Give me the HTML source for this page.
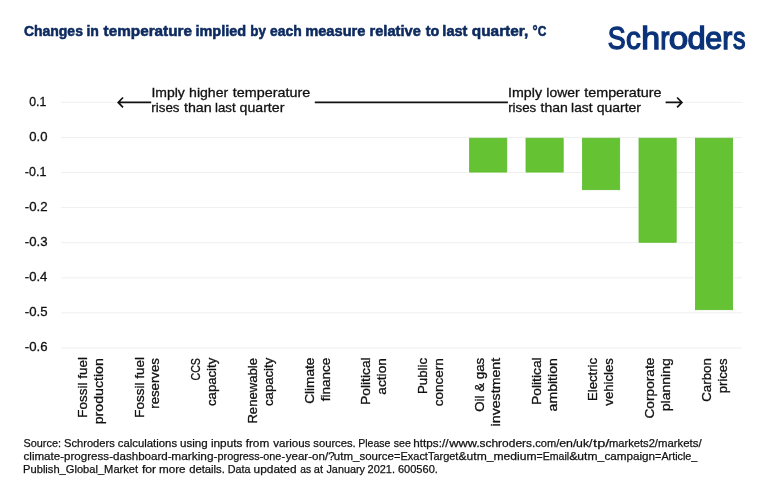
<!DOCTYPE html>
<html lang="en">
<head>
<meta charset="utf-8">
<title>Changes in temperature implied by each measure</title>
<style>
html,body{margin:0;padding:0;background:#fff;}
body{width:770px;height:492px;overflow:hidden;font-family:"Liberation Sans",sans-serif;}
svg{display:block;}
text{font-family:"Liberation Sans",sans-serif;white-space:pre;}
.title{font-weight:bold;font-size:14.9px;fill:#0e2b60;stroke:#0e2b60;stroke-width:0.55px;}
.logo{font-weight:normal;font-size:30.6px;fill:#0b3379;stroke:#0b3379;stroke-width:1.3px;}
.ytick{font-size:12.8px;fill:#111;stroke:#111;stroke-width:0.3px;}
.xlab{font-size:13.0px;fill:#111;stroke:#111;stroke-width:0.3px;}
.ann{font-size:13.2px;fill:#111;stroke:#111;stroke-width:0.3px;}
.foot{font-size:11.4px;fill:#111;stroke:#111;stroke-width:0.25px;}
.grid line{stroke:#efeff0;stroke-width:1;}
.bar{fill:#64c233;stroke:#5ebb30;stroke-width:0.8px;}
.arr{stroke:#111;stroke-width:1.7;fill:none;}
</style>
</head>
<body>
<svg width="770" height="492" viewBox="0 0 770 492">
<rect width="770" height="492" fill="#ffffff"/>
<g class="grid">
<line x1="61.2" x2="117.5" y1="102.3" y2="102.3"/>
<line x1="683" x2="742.3" y1="102.3" y2="102.3"/>
<line x1="61.2" x2="742.3" y1="137.4" y2="137.4"/>
<line x1="61.2" x2="742.3" y1="172.5" y2="172.5"/>
<line x1="61.2" x2="742.3" y1="207.6" y2="207.6"/>
<line x1="61.2" x2="742.3" y1="242.7" y2="242.7"/>
<line x1="61.2" x2="742.3" y1="277.8" y2="277.8"/>
<line x1="61.2" x2="742.3" y1="312.9" y2="312.9"/>
<line x1="61.2" x2="742.3" y1="348.0" y2="348.0"/>
</g>
<rect fill="#fff" x="468.6" y="138.0" width="39.2" height="35.1"/>
<rect class="bar" x="469.6" y="138.2" width="37.2" height="33.9"/>
<rect fill="#fff" x="525.0" y="138.0" width="39.2" height="35.1"/>
<rect class="bar" x="526.0" y="138.2" width="37.2" height="33.9"/>
<rect fill="#fff" x="581.5" y="138.0" width="39.2" height="52.7"/>
<rect class="bar" x="582.5" y="138.2" width="37.2" height="51.5"/>
<rect fill="#fff" x="638.0" y="138.0" width="39.2" height="105.3"/>
<rect class="bar" x="639.0" y="138.2" width="37.2" height="104.1"/>
<rect fill="#fff" x="694.4" y="138.0" width="39.2" height="172.7"/>
<rect class="bar" x="695.4" y="138.2" width="37.2" height="171.5"/>
<path class="arr" d="M151.2 102.4H118.6M123 97.5L118.2 102.4L123 107.3"/>
<path class="arr" d="M314.8 102.4H507.9"/>
<path class="arr" d="M665.6 102.4H681.5M677.1 97.5L681.9 102.4L677.1 107.3"/>
<text class="ytick" x="29.27" y="105.50" textLength="17.08" lengthAdjust="spacingAndGlyphs">0.1</text>
<text class="ytick" x="29.24" y="140.60" textLength="18.22" lengthAdjust="spacingAndGlyphs">0.0</text>
<text class="ytick" x="24.79" y="175.70" textLength="21.57" lengthAdjust="spacingAndGlyphs">-0.1</text>
<text class="ytick" x="24.76" y="210.80" textLength="22.86" lengthAdjust="spacingAndGlyphs">-0.2</text>
<text class="ytick" x="24.76" y="245.90" textLength="22.77" lengthAdjust="spacingAndGlyphs">-0.3</text>
<text class="ytick" x="24.77" y="281.00" textLength="22.57" lengthAdjust="spacingAndGlyphs">-0.4</text>
<text class="ytick" x="24.76" y="316.10" textLength="22.74" lengthAdjust="spacingAndGlyphs">-0.5</text>
<text class="ytick" x="24.76" y="351.20" textLength="22.77" lengthAdjust="spacingAndGlyphs">-0.6</text>
<text class="xlab" transform="translate(86.80 417.65) rotate(-90)" textLength="60.61" lengthAdjust="spacingAndGlyphs">Fossil fuel</text>
<text class="xlab" transform="translate(102.70 424.26) rotate(-90)" textLength="66.13" lengthAdjust="spacingAndGlyphs">production</text>
<text class="xlab" transform="translate(143.53 417.65) rotate(-90)" textLength="60.61" lengthAdjust="spacingAndGlyphs">Fossil fuel</text>
<text class="xlab" transform="translate(159.43 408.73) rotate(-90)" textLength="50.55" lengthAdjust="spacingAndGlyphs">reserves</text>
<text class="xlab" transform="translate(200.26 380.49) rotate(-90)" textLength="22.32" lengthAdjust="spacingAndGlyphs">CCS</text>
<text class="xlab" transform="translate(216.16 406.01) rotate(-90)" textLength="48.28" lengthAdjust="spacingAndGlyphs">capacity</text>
<text class="xlab" transform="translate(256.99 423.62) rotate(-90)" textLength="65.56" lengthAdjust="spacingAndGlyphs">Renewable</text>
<text class="xlab" transform="translate(272.89 406.01) rotate(-90)" textLength="48.28" lengthAdjust="spacingAndGlyphs">capacity</text>
<text class="xlab" transform="translate(313.72 403.84) rotate(-90)" textLength="46.20" lengthAdjust="spacingAndGlyphs">Climate</text>
<text class="xlab" transform="translate(329.62 401.24) rotate(-90)" textLength="43.59" lengthAdjust="spacingAndGlyphs">finance</text>
<text class="xlab" transform="translate(370.45 404.98) rotate(-90)" textLength="47.66" lengthAdjust="spacingAndGlyphs">Political</text>
<text class="xlab" transform="translate(386.35 394.63) rotate(-90)" textLength="36.47" lengthAdjust="spacingAndGlyphs">action</text>
<text class="xlab" transform="translate(427.18 394.04) rotate(-90)" textLength="36.14" lengthAdjust="spacingAndGlyphs">Public</text>
<text class="xlab" transform="translate(443.08 406.22) rotate(-90)" textLength="48.05" lengthAdjust="spacingAndGlyphs">concern</text>
<text class="xlab" transform="translate(483.91 411.78) rotate(-90)" textLength="54.01" lengthAdjust="spacingAndGlyphs">Oil &amp; gas</text>
<text class="xlab" transform="translate(499.81 426.40) rotate(-90)" textLength="68.55" lengthAdjust="spacingAndGlyphs">investment</text>
<text class="xlab" transform="translate(540.64 404.98) rotate(-90)" textLength="47.66" lengthAdjust="spacingAndGlyphs">Political</text>
<text class="xlab" transform="translate(556.54 411.45) rotate(-90)" textLength="53.32" lengthAdjust="spacingAndGlyphs">ambition</text>
<text class="xlab" transform="translate(597.37 401.03) rotate(-90)" textLength="43.13" lengthAdjust="spacingAndGlyphs">Electric</text>
<text class="xlab" transform="translate(613.27 405.69) rotate(-90)" textLength="47.52" lengthAdjust="spacingAndGlyphs">vehicles</text>
<text class="xlab" transform="translate(654.10 418.55) rotate(-90)" textLength="60.90" lengthAdjust="spacingAndGlyphs">Corporate</text>
<text class="xlab" transform="translate(670.00 411.26) rotate(-90)" textLength="53.11" lengthAdjust="spacingAndGlyphs">planning</text>
<text class="xlab" transform="translate(710.83 401.72) rotate(-90)" textLength="43.54" lengthAdjust="spacingAndGlyphs">Carbon</text>
<text class="xlab" transform="translate(726.73 393.29) rotate(-90)" textLength="34.71" lengthAdjust="spacingAndGlyphs">prices</text>
<text class="title" y="36.30"><tspan x="23.90" textLength="62.90" lengthAdjust="spacingAndGlyphs">Changes </tspan><tspan x="86.39" textLength="16.40" lengthAdjust="spacingAndGlyphs">in </tspan><tspan x="103.59" textLength="92.70" lengthAdjust="spacingAndGlyphs">temperature </tspan><tspan x="195.46" textLength="54.70" lengthAdjust="spacingAndGlyphs">implied </tspan><tspan x="250.29" textLength="19.40" lengthAdjust="spacingAndGlyphs">by </tspan><tspan x="270.03" textLength="35.60" lengthAdjust="spacingAndGlyphs">each </tspan><tspan x="305.21" textLength="64.30" lengthAdjust="spacingAndGlyphs">measure </tspan><tspan x="369.51" textLength="55.40" lengthAdjust="spacingAndGlyphs">relative </tspan><tspan x="425.70" textLength="17.50" lengthAdjust="spacingAndGlyphs">to </tspan><tspan x="442.36" textLength="29.10" lengthAdjust="spacingAndGlyphs">last </tspan><tspan x="471.84" textLength="60.60" lengthAdjust="spacingAndGlyphs">quarter, </tspan><tspan x="532.51" textLength="5.10" lengthAdjust="spacingAndGlyphs">°</tspan><tspan x="537.68" textLength="8.67" lengthAdjust="spacingAndGlyphs">C</tspan></text>
<text class="logo" y="48.55"><tspan x="607.73" textLength="17.84" lengthAdjust="spacingAndGlyphs">S</tspan><tspan x="626.00" textLength="14.73" lengthAdjust="spacingAndGlyphs">c</tspan><tspan x="641.30" textLength="18.85" lengthAdjust="spacingAndGlyphs">h</tspan><tspan x="660.22" textLength="9.19" lengthAdjust="spacingAndGlyphs">r</tspan><tspan x="668.88" textLength="19.44" lengthAdjust="spacingAndGlyphs">o</tspan><tspan x="687.48" textLength="18.18" lengthAdjust="spacingAndGlyphs">d</tspan><tspan x="705.16" textLength="16.95" lengthAdjust="spacingAndGlyphs">e</tspan><tspan x="722.26" textLength="9.99" lengthAdjust="spacingAndGlyphs">r</tspan><tspan x="733.05" textLength="12.50" lengthAdjust="spacingAndGlyphs">s</tspan></text>
<text class="ann" y="96.80"><tspan x="151.46" textLength="37.30" lengthAdjust="spacingAndGlyphs">Imply </tspan><tspan x="189.07" textLength="43.00" lengthAdjust="spacingAndGlyphs">higher </tspan><tspan x="232.83" textLength="77.36" lengthAdjust="spacingAndGlyphs">temperature</tspan></text>
<text class="ann" y="112.40"><tspan x="151.36" textLength="31.90" lengthAdjust="spacingAndGlyphs">rises </tspan><tspan x="183.93" textLength="31.70" lengthAdjust="spacingAndGlyphs">than </tspan><tspan x="214.96" textLength="24.30" lengthAdjust="spacingAndGlyphs">last </tspan><tspan x="239.56" textLength="44.83" lengthAdjust="spacingAndGlyphs">quarter</tspan></text>
<text class="ann" y="96.80"><tspan x="508.14" textLength="37.80" lengthAdjust="spacingAndGlyphs">Imply </tspan><tspan x="546.31" textLength="37.20" lengthAdjust="spacingAndGlyphs">lower </tspan><tspan x="584.23" textLength="77.36" lengthAdjust="spacingAndGlyphs">temperature</tspan></text>
<text class="ann" y="112.40"><tspan x="508.17" textLength="31.80" lengthAdjust="spacingAndGlyphs">rises </tspan><tspan x="540.64" textLength="31.20" lengthAdjust="spacingAndGlyphs">than </tspan><tspan x="571.12" textLength="25.20" lengthAdjust="spacingAndGlyphs">last </tspan><tspan x="596.66" textLength="44.32" lengthAdjust="spacingAndGlyphs">quarter</tspan></text>
<text class="foot" y="446.60"><tspan x="23.53" textLength="40.50" lengthAdjust="spacingAndGlyphs">Source: </tspan><tspan x="64.02" textLength="53.80" lengthAdjust="spacingAndGlyphs">Schroders </tspan><tspan x="117.84" textLength="62.40" lengthAdjust="spacingAndGlyphs">calculations </tspan><tspan x="179.97" textLength="31.00" lengthAdjust="spacingAndGlyphs">using </tspan><tspan x="210.94" textLength="61.60" lengthAdjust="spacingAndGlyphs">inputs from </tspan><tspan x="273.29" textLength="40.30" lengthAdjust="spacingAndGlyphs">various </tspan><tspan x="313.31" textLength="45.50" lengthAdjust="spacingAndGlyphs">sources. </tspan><tspan x="358.26" textLength="35.00" lengthAdjust="spacingAndGlyphs">Please </tspan><tspan x="393.83" textLength="20.00" lengthAdjust="spacingAndGlyphs">see </tspan><tspan x="413.31" textLength="35.10" lengthAdjust="spacingAndGlyphs">https://</tspan><tspan x="449.24" textLength="30.60" lengthAdjust="spacingAndGlyphs">www.</tspan><tspan x="479.49" textLength="55.90" lengthAdjust="spacingAndGlyphs">schroders.</tspan><tspan x="535.25" textLength="24.00" lengthAdjust="spacingAndGlyphs">com/</tspan><tspan x="559.20" textLength="17.20" lengthAdjust="spacingAndGlyphs">en/</tspan><tspan x="576.13" textLength="16.40" lengthAdjust="spacingAndGlyphs">uk/</tspan><tspan x="593.10" textLength="16.30" lengthAdjust="spacingAndGlyphs">tp/</tspan><tspan x="608.88" textLength="49.10" lengthAdjust="spacingAndGlyphs">markets2/</tspan><tspan x="657.97" textLength="43.61" lengthAdjust="spacingAndGlyphs">markets/</tspan></text>
<text class="foot" y="459.60"><tspan x="23.53" textLength="148.10" lengthAdjust="spacingAndGlyphs">climate-progress-dashboard-</tspan><tspan x="171.34" textLength="46.10" lengthAdjust="spacingAndGlyphs">marking-</tspan><tspan x="217.53" textLength="67.50" lengthAdjust="spacingAndGlyphs">progress-one-</tspan><tspan x="285.70" textLength="48.90" lengthAdjust="spacingAndGlyphs">year-on/?</tspan><tspan x="333.88" textLength="60.00" lengthAdjust="spacingAndGlyphs">utm_source</tspan><tspan x="394.09" textLength="64.30" lengthAdjust="spacingAndGlyphs">=ExactTarget</tspan><tspan x="458.50" textLength="78.10" lengthAdjust="spacingAndGlyphs">&amp;utm_medium</tspan><tspan x="536.51" textLength="32.60" lengthAdjust="spacingAndGlyphs">=Email</tspan><tspan x="569.18" textLength="8.50" lengthAdjust="spacingAndGlyphs">&amp;</tspan><tspan x="577.34" textLength="26.80" lengthAdjust="spacingAndGlyphs">utm_</tspan><tspan x="604.43" textLength="50.70" lengthAdjust="spacingAndGlyphs">campaign</tspan><tspan x="655.10" textLength="42.26" lengthAdjust="spacingAndGlyphs">=Article_</tspan></text>
<text class="foot" y="472.60"><tspan x="23.11" textLength="118.10" lengthAdjust="spacingAndGlyphs">Publish_Global_Market </tspan><tspan x="141.95" textLength="17.60" lengthAdjust="spacingAndGlyphs">for </tspan><tspan x="158.95" textLength="29.90" lengthAdjust="spacingAndGlyphs">more </tspan><tspan x="189.15" textLength="38.90" lengthAdjust="spacingAndGlyphs">details. </tspan><tspan x="227.64" textLength="25.80" lengthAdjust="spacingAndGlyphs">Data </tspan><tspan x="253.55" textLength="46.30" lengthAdjust="spacingAndGlyphs">updated </tspan><tspan x="300.19" textLength="13.70" lengthAdjust="spacingAndGlyphs">as </tspan><tspan x="313.85" textLength="12.30" lengthAdjust="spacingAndGlyphs">at </tspan><tspan x="326.46" textLength="41.50" lengthAdjust="spacingAndGlyphs">January </tspan><tspan x="367.57" textLength="30.40" lengthAdjust="spacingAndGlyphs">2021. </tspan><tspan x="397.96" textLength="39.92" lengthAdjust="spacingAndGlyphs">600560.</tspan></text>
</svg>
</body>
</html>
